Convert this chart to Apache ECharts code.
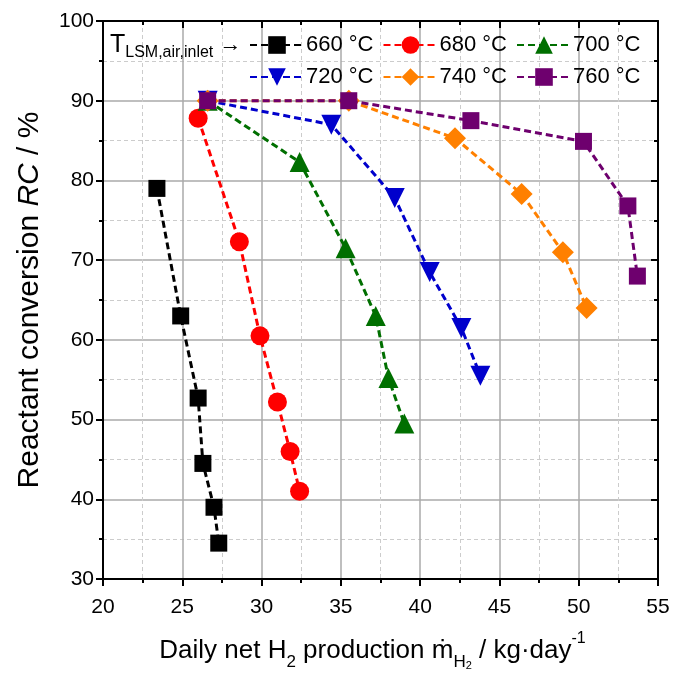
<!DOCTYPE html>
<html>
<head>
<meta charset="utf-8">
<script src="https://cdn.jsdelivr.net/npm/echarts@6/dist/echarts.min.js"></script>
<style>
  html, body { margin: 0; padding: 0; background: #fff; }
  #chart { width: 673px; height: 676px; }
</style>
</head>
<body>
<div id="chart"></div>
<script>
// daily net H2 production (kg/day) vs reactant conversion (%), per LSM air inlet temperature
const seriesNames = ['660 °C', '680 °C', '700 °C', '720 °C', '740 °C', '760 °C'];
const seriesColors = ['#000000', '#ff0000', '#006f00', '#0000cc', '#ff8000', '#6e006e'];
const seriesSymbols = ['rect', 'circle', 'triangle', 'path://M0,0L10,0L5,9Z', 'diamond', 'rect'];
const seriesSizes = [17, 19, 20, 20, 22, 17];

const x660 = [23.4, 24.9, 26.0, 26.3, 27.0, 27.3];
const y660 = [79.0, 63.0, 52.7, 44.5, 39.0, 34.5];
const x680 = [26.0, 28.6, 29.9, 31.0, 31.8, 32.4];
const y680 = [87.8, 72.3, 60.5, 52.2, 46.0, 41.0];
const x700 = [26.6, 32.4, 35.3, 37.2, 38.0, 39.0];
const y700 = [90.0, 82.3, 71.5, 63.0, 55.2, 49.5];
const x720 = [26.6, 34.4, 38.4, 40.6, 42.6, 43.8];
const y720 = [90.0, 87.0, 77.8, 68.5, 61.5, 55.5];
const x740 = [26.6, 35.5, 42.2, 46.4, 49.0, 50.5];
const y740 = [90.0, 90.0, 85.3, 78.3, 71.0, 64.0];
const x760 = [26.6, 35.5, 43.2, 50.3, 53.1, 53.7];
const y760 = [90.0, 90.0, 87.5, 84.9, 76.8, 68.0];

const xs = [x660, x680, x700, x720, x740, x760];
const ys = [y660, y680, y700, y720, y740, y760];

const font = "'Liberation Sans', Arial, sans-serif";

const chart = echarts.init(document.getElementById('chart'), null, { renderer: 'canvas' });

const series = seriesNames.map((name, i) => ({
  name: name,
  type: 'line',
  data: xs[i].map((x, j) => [x, ys[i][j]]),
  symbol: seriesSymbols[i],
  symbolSize: seriesSizes[i],
  color: seriesColors[i],
  itemStyle: { color: seriesColors[i] },
  lineStyle: { color: seriesColors[i], width: 3, type: [7, 4] },
  animation: false,
  z: 2 + i,
}));

const axisLine = { show: true, lineStyle: { color: '#000', width: 2 } };
const legendText = { fontFamily: font, fontSize: 22, color: '#000', padding: [0, 0, 0, -3] };

const option = {
  backgroundColor: '#fff',
  animation: false,
  title: {
    text: '{t|T}{s|LSM,air,inlet}{a| →}',
    left: 105,
    top: 24,
    textStyle: {
      fontWeight: 'normal',
      rich: {
        t: { fontFamily: font, fontSize: 25, color: '#000', lineHeight: 32 },
        s: { fontFamily: font, fontSize: 16, color: '#000', lineHeight: 14, verticalAlign: 'bottom' },
        a: { fontFamily: font, fontSize: 22, color: '#000', lineHeight: 32 },
      },
    },
  },
  legend: [
    {
      data: seriesNames.slice(0, 3),
      left: 244,
      top: 29,
      itemWidth: 54,
      itemHeight: 22,
      itemGap: 9,
      textStyle: legendText,
    },
    {
      data: seriesNames.slice(3),
      left: 244,
      top: 61,
      itemWidth: 54,
      itemHeight: 22,
      itemGap: 9,
      textStyle: legendText,
    },
  ],
  grid: { left: 103, right: 15, top: 21, bottom: 96 },
  xAxis: [
    {
      type: 'value',
      min: 20,
      max: 55,
      interval: 5,
      position: 'bottom',
      name: '{n|Daily net H}{s|2}{n| production ṁ}{s|H}{ss|2}{n| / kg·day}{p|-1}',
      nameLocation: 'middle',
      nameGap: 52,
      nameTextStyle: {
        padding: [0, 16, 0, 0],
        rich: {
          n: { fontFamily: font, fontSize: 26, color: '#000', lineHeight: 40 },
          s: { fontFamily: font, fontSize: 17, color: '#000', lineHeight: 18, verticalAlign: 'bottom' },
          ss: { fontFamily: font, fontSize: 11, color: '#000', lineHeight: 8, verticalAlign: 'bottom' },
          p: { fontFamily: font, fontSize: 16, color: '#000', lineHeight: 18, verticalAlign: 'top' },
        },
      },
      axisLine: axisLine,
      axisTick: { show: true, inside: false, length: 7, lineStyle: { color: '#000', width: 2 } },
      minorTick: { show: true, splitNumber: 2, length: 4, lineStyle: { color: '#000', width: 2 } },
      axisLabel: { fontFamily: font, fontSize: 21, color: '#000', margin: 18 },
      splitLine: { show: true, lineStyle: { color: '#aaaaaa', width: 1.5 } },
      minorSplitLine: { show: true, lineStyle: { color: '#cccccc', width: 1, type: [4, 3] } },
    },
    {
      type: 'value',
      min: 20,
      max: 55,
      interval: 5,
      position: 'top',
      axisLine: axisLine,
      axisTick: { show: true, inside: true, length: 7, lineStyle: { color: '#000', width: 2 } },
      minorTick: { show: true, splitNumber: 2, length: 4, lineStyle: { color: '#000', width: 2 } },
      axisLabel: { show: false },
      splitLine: { show: false },
    },
  ],
  yAxis: [
    {
      type: 'value',
      min: 30,
      max: 100,
      interval: 10,
      position: 'left',
      name: '{n|Reactant conversion }{i|RC}{n| / %}',
      nameLocation: 'middle',
      nameGap: 58,
      nameTextStyle: {
        rich: {
          n: { fontFamily: font, fontSize: 30, color: '#000' },
          i: { fontFamily: font, fontSize: 30, color: '#000', fontStyle: 'italic' },
        },
      },
      axisLine: axisLine,
      axisTick: { show: true, inside: false, length: 7, lineStyle: { color: '#000', width: 2 } },
      minorTick: { show: true, splitNumber: 2, length: 4, lineStyle: { color: '#000', width: 2 } },
      axisLabel: { fontFamily: font, fontSize: 21, color: '#000', margin: 9 },
      splitLine: { show: true, lineStyle: { color: '#aaaaaa', width: 1.5 } },
      minorSplitLine: { show: true, lineStyle: { color: '#cccccc', width: 1, type: [4, 3] } },
    },
    {
      type: 'value',
      min: 30,
      max: 100,
      interval: 10,
      position: 'right',
      axisLine: axisLine,
      axisTick: { show: true, inside: true, length: 7, lineStyle: { color: '#000', width: 2 } },
      minorTick: { show: true, splitNumber: 2, length: 4, lineStyle: { color: '#000', width: 2 } },
      axisLabel: { show: false },
      splitLine: { show: false },
    },
  ],
  series: series,
};

chart.setOption(option);
</script>
</body>
</html>
